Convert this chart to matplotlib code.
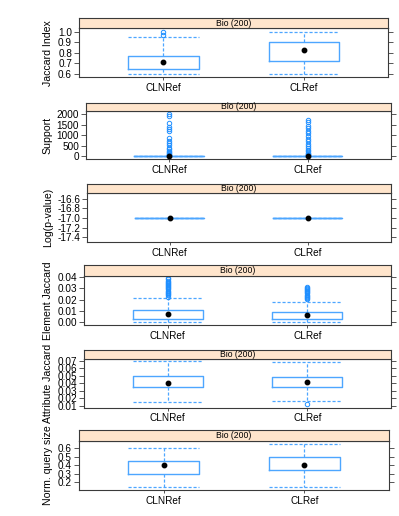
import matplotlib
matplotlib.use("Agg")
import matplotlib.pyplot as plt
import numpy as np

plt.rcParams['font.family'] = ['Liberation Sans', 'DejaVu Sans']

groups = ["CLNRef", "CLRef"]
strip_label = "Bio (200)"

# per metric: [whislo, q1, median, q3, whishi] for each group, plus outliers
jaccard_stats = [[0.60, 0.65, 0.71, 0.77, 0.95], [0.60, 0.725, 0.83, 0.905, 1.00]]
jaccard_out = [[1.00, 0.965], []]

support_stats = [[0, 2, 5, 15, 30], [0, 2, 5, 15, 30]]
support_out = [
    [2040, 1940, 1580, 1420, 1310, 1220, 880, 750, 640, 530, 410, 330, 270, 210, 150, 110, 80, 60],
    [1730, 1620, 1470, 1340, 1220, 1110, 950, 840, 720, 600, 490, 380, 300, 230, 170, 120, 90, 60],
]

pvalue_stats = [[-17, -17, -17, -17, -17], [-17, -17, -17, -17, -17]]
pvalue_out = [[], []]

element_stats = [[0.0, 0.003, 0.0067, 0.0108, 0.0213], [0.0, 0.0024, 0.0058, 0.009, 0.0175]]
element_out = [
    [0.0225, 0.024, 0.025, 0.026, 0.027, 0.028, 0.029, 0.030, 0.031, 0.032,
     0.033, 0.034, 0.035, 0.036, 0.037, 0.038, 0.039],
    [0.0205, 0.0215, 0.0225, 0.0235, 0.0245, 0.0255, 0.0265, 0.0275, 0.0285,
     0.0295, 0.0305, 0.0314],
]

attribute_stats = [[0.016, 0.0355, 0.041, 0.0495, 0.070], [0.017, 0.0355, 0.042, 0.0485, 0.068]]
attribute_out = [[], [0.0122]]

query_stats = [[0.14, 0.30, 0.40, 0.45, 0.60], [0.14, 0.35, 0.40, 0.50, 0.655]]
query_out = [[], []]

panels = [
    ("Jaccard Index", jaccard_stats, jaccard_out, np.arange(0.6, 1.01, 0.1), "%.1f", (0.572, 1.031)),
    ("Support", support_stats, support_out, np.arange(0, 2001, 500), "%d", (-145, 2180)),
    ("Log(p-value)", pvalue_stats, pvalue_out, np.arange(-17.4, -16.59, 0.2), "%.1f", (-17.5, -16.49)),
    ("Element Jaccard", element_stats, element_out, np.arange(0, 0.041, 0.01), "%.2f", (-0.0027, 0.0413)),
    ("Attribute Jaccard", attribute_stats, attribute_out, np.arange(0.01, 0.071, 0.01), "%.2f", (0.0078, 0.0723)),
    ("Norm. query size", query_stats, query_out, np.arange(0.2, 0.61, 0.1), "%.1f", (0.105, 0.692)),
]

# panel boxes in pixels: left, strip top, plot top, plot bottom, right
boxes = [
    (79, 18, 28.3, 77, 388.3),
    (86, 102.7, 110.7, 159.3, 390.7),
    (87, 184, 193.3, 242.3, 390.7),
    (84, 265.3, 275.7, 325, 391),
    (84, 349.7, 359, 407.7, 391),
    (79, 430.3, 440.7, 490.3, 389),
]

W, H = 399, 516
fig = plt.figure(figsize=(W / 100, H / 100), dpi=100)

box_col = "#4da6ff"
pt_col = "#1f8fff"
frame = "#3a3a3a"

for (label, stats, outs, yticks, fmt, ylim), (l, st, pt, pb, r) in zip(panels, boxes):
    ax = fig.add_axes([l / W, 1 - pb / H, (r - l) / W, (pb - pt) / H])
    sax = fig.add_axes([l / W, 1 - pt / H, (r - l) / W, (pt - st) / H])

    bxp_stats = []
    for s, o in zip(stats, outs):
        bxp_stats.append(dict(whislo=s[0], q1=s[1], med=s[2], q3=s[3], whishi=s[4], fliers=o))
    ax.bxp(bxp_stats, positions=[1, 2], widths=0.5, capwidths=0.5,
           boxprops=dict(color=box_col, linewidth=1.0),
           whiskerprops=dict(color=box_col, linewidth=0.9, linestyle=(0, (2.5, 1.5))),
           capprops=dict(color=box_col, linewidth=0.9, linestyle=(0, (2.5, 1.5))),
           medianprops=dict(visible=False),
           flierprops=dict(marker='o', markersize=3.2, markerfacecolor='none',
                           markeredgecolor=pt_col, markeredgewidth=0.7))
    ax.plot([1, 2], [s[2] for s in stats], 'o', color='black', markersize=3.2, zorder=5)

    ax.set_xlim(0.4, 2.6)
    ax.set_ylim(*ylim)
    ax.set_xticks([1, 2])
    ax.set_xticklabels(groups, fontsize=7.2)
    ax.set_yticks(yticks)
    ax.set_yticklabels([fmt % v for v in yticks], fontsize=7.2)
    ax.tick_params(axis='y', direction='out', length=3.5, width=0.6, color=frame,
                   right=True, labelright=False, pad=1.5)
    ax.tick_params(axis='x', direction='out', length=2.5, width=0.6, color=frame, pad=1.5)
    for sp in ax.spines.values():
        sp.set_color(frame)
        sp.set_linewidth(0.8)

    sax.set_facecolor("#ffe5cc")
    sax.set_xticks([])
    sax.set_yticks([])
    for sp in sax.spines.values():
        sp.set_color(frame)
        sp.set_linewidth(0.8)
    sax.text(0.5, 0.5, strip_label, transform=sax.transAxes, ha='center', va='center', fontsize=6.2)

    fig.text(47.7 / W, 1 - (pt + pb) / 2 / H, label, rotation=90, ha='center', va='center', fontsize=7.6)

fig.savefig("out.png", dpi=100)
